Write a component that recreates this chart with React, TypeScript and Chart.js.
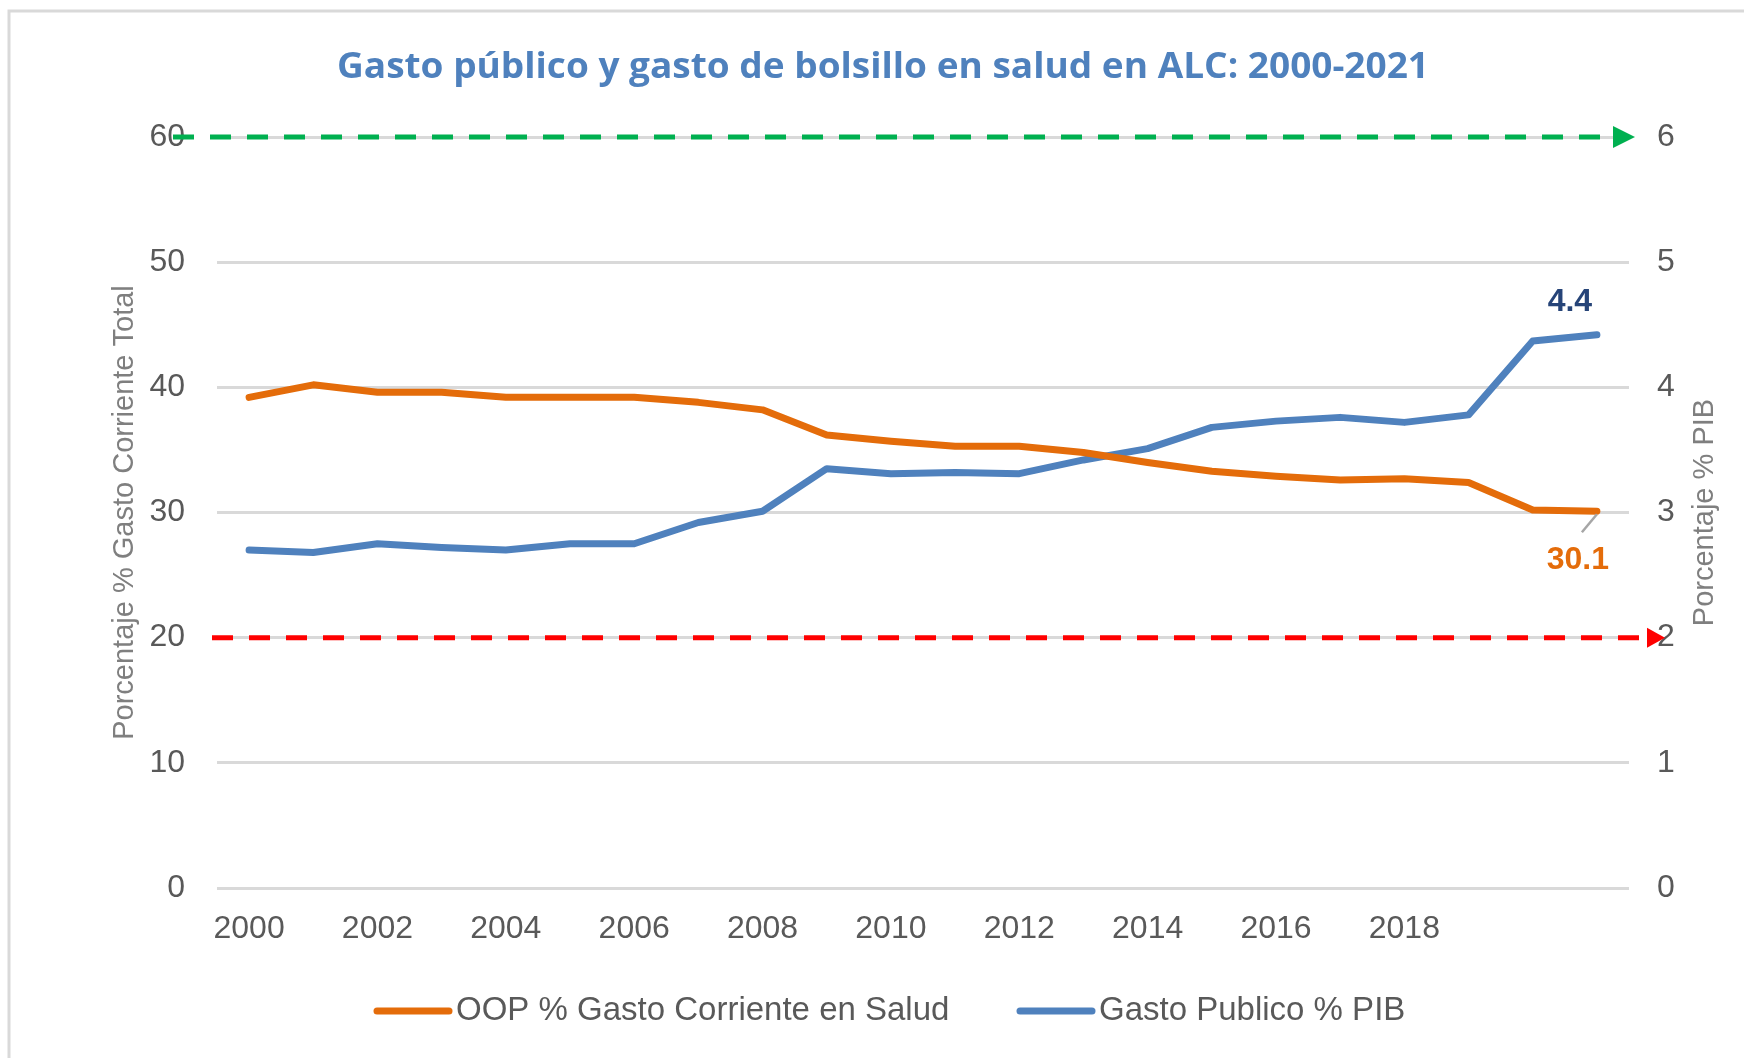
import React, { useEffect, useRef } from "react";
import { Chart, registerables } from "chart.js";

Chart.register(...registerables);

const years = ["2000","2001","2002","2003","2004","2005","2006","2007","2008","2009","2010","2011","2012","2013","2014","2015","2016","2017","2018","2019","2020","2021"];
const oopValues = [39.2,40.2,39.6,39.6,39.2,39.2,39.2,38.8,38.2,36.2,35.7,35.3,35.3,34.8,34.0,33.3,32.9,32.6,32.7,32.4,30.2,30.1];
const publicValues = [2.70,2.68,2.75,2.72,2.70,2.75,2.75,2.92,3.01,3.35,3.31,3.32,3.31,3.42,3.51,3.68,3.73,3.76,3.72,3.78,4.37,4.42];
const shownYearLabels = ["2000","2002","2004","2006","2008","2010","2012","2014","2016","2018"];
const refLevels = [60, 20];
const refColors = ["#00B050", "#FF0000"];
const seriesNames = ["OOP % Gasto Corriente en Salud", "Gasto Publico % PIB"];
const seriesColors = ["#E46C0A", "#4F81BD"];
const titleText = "Gasto público y gasto de bolsillo en salud en ALC: 2000-2021";
const leftTitle = "Porcentaje % Gasto Corriente Total";
const rightTitle = "Porcentaje % PIB";
const lastLabels = ["30.1", "4.4"];

const FONT = "'Liberation Sans', Arial, sans-serif";

const decorPlugin = {
  id: "decor",
  afterDatasetsDraw(chart: any) {
    const { ctx, chartArea, scales } = chart;
    const y = scales.y;
    ctx.save();
    // reference dashed lines with arrows
    refLevels.forEach((lv, i) => {
      const py = y.getPixelForValue(lv);
      const x0 = i === 0 ? chartArea.left - 44 : chartArea.left - 5;
      const tip = i === 0 ? chartArea.right + 6 : chartArea.right + 36;
      const headL = i === 0 ? 22 : 18;
      const headH = i === 0 ? 11 : 10;
      ctx.strokeStyle = refColors[i];
      ctx.lineWidth = 5;
      ctx.setLineDash([21, 16]);
      ctx.beginPath();
      ctx.moveTo(x0, py);
      ctx.lineTo(tip - headL + 1, py);
      ctx.stroke();
      ctx.setLineDash([]);
      ctx.fillStyle = refColors[i];
      ctx.beginPath();
      ctx.moveTo(tip, py);
      ctx.lineTo(tip - headL, py - headH);
      ctx.lineTo(tip - headL, py + headH);
      ctx.closePath();
      ctx.fill();
    });
    // last-point labels
    const m0 = chart.getDatasetMeta(0).data;
    const m1 = chart.getDatasetMeta(1).data;
    const p0 = m0[m0.length - 1];
    const p1 = m1[m1.length - 1];
    ctx.strokeStyle = "#A6A6A6";
    ctx.lineWidth = 2.5;
    ctx.beginPath();
    ctx.moveTo(p0.x, p0.y + 3);
    ctx.lineTo(p0.x - 15, p0.y + 21);
    ctx.stroke();
    ctx.font = "bold 32px " + FONT;
    ctx.textAlign = "center";
    ctx.textBaseline = "middle";
    ctx.fillStyle = "#E46C0A";
    ctx.fillText(lastLabels[0], p0.x - 19, p0.y + 49);
    ctx.fillStyle = "#264478";
    ctx.fillText(lastLabels[1], p1.x - 27, p1.y - 33);
    ctx.restore();
  },
  afterDraw(chart: any) {
    const { ctx, chartArea } = chart;
    ctx.save();
    // frame
    ctx.strokeStyle = "#D9D9D9";
    ctx.lineWidth = 3;
    ctx.beginPath();
    ctx.moveTo(9, 1058);
    ctx.lineTo(9, 11);
    ctx.lineTo(1744, 11);
    ctx.stroke();
    // title (stretched to the reference width)
    ctx.fillStyle = "#4F81BD";
    ctx.font = "bold 35px 'Liberation Sans Narrow', 'Open Sans', sans-serif";
    ctx.textAlign = "center";
    ctx.textBaseline = "middle";
    const w = ctx.measureText(titleText).width;
    ctx.save();
    ctx.translate(883, 68);
    ctx.scale(1092 / w, 1);
    ctx.fillText(titleText, 0, 0);
    ctx.restore();
    // axis titles
    const cy = (chartArea.top + chartArea.bottom) / 2;
    ctx.fillStyle = "#7F7F7F";
    ctx.font = "29px " + FONT;
    ctx.save();
    ctx.translate(125, cy);
    ctx.rotate(-Math.PI / 2);
    ctx.fillText(leftTitle, 0, 0);
    ctx.restore();
    ctx.save();
    ctx.translate(1705, cy);
    ctx.rotate(-Math.PI / 2);
    ctx.fillText(rightTitle, 0, 0);
    ctx.restore();
    // legend
    const ly = 1011;
    const items = [
      { x: 377, tx: 456 },
      { x: 1020, tx: 1099 },
    ];
    ctx.font = "33px " + FONT;
    ctx.textAlign = "left";
    items.forEach((it, i) => {
      ctx.strokeStyle = seriesColors[i];
      ctx.lineWidth = 7;
      ctx.lineCap = "round";
      ctx.beginPath();
      ctx.moveTo(it.x, ly);
      ctx.lineTo(it.x + 72, ly);
      ctx.stroke();
      ctx.fillStyle = "#595959";
      ctx.fillText(seriesNames[i], it.tx, ly);
    });
    ctx.restore();
  },
};

export default function App() {
  const ref = useRef<HTMLCanvasElement | null>(null);
  useEffect(() => {
    if (!ref.current) return;
    const chart = new Chart(ref.current, {
      type: "line",
      data: {
        labels: years,
        datasets: [
          {
            label: seriesNames[0],
            data: oopValues,
            yAxisID: "y",
            borderColor: seriesColors[0],
            backgroundColor: seriesColors[0],
            borderWidth: 7,
            pointRadius: 0,
            tension: 0,
            borderCapStyle: "round",
            borderJoinStyle: "round",
          },
          {
            label: seriesNames[1],
            data: publicValues,
            yAxisID: "y1",
            borderColor: seriesColors[1],
            backgroundColor: seriesColors[1],
            borderWidth: 7,
            pointRadius: 0,
            tension: 0,
            borderCapStyle: "round",
            borderJoinStyle: "round",
          },
        ],
      },
      options: {
        animation: false,
        responsive: false,
        maintainAspectRatio: false,
        layout: { padding: { top: 137, left: 0, right: 0, bottom: 0 } },
        plugins: {
          legend: { display: false },
          title: { display: false },
          tooltip: { enabled: false },
        },
        scales: {
          x: {
            type: "category",
            offset: true,
            grid: { display: false, drawTicks: false },
            border: { display: false },
            ticks: {
              autoSkip: false,
              maxRotation: 0,
              minRotation: 0,
              padding: 22,
              color: "#595959",
              font: { family: FONT, size: 32 },
              callback: function (this: any, v: any) {
                const l = years[v as number];
                return shownYearLabels.includes(l) ? l : "";
              },
            },
            afterFit: (s: any) => {
              s.height = 170;
            },
          },
          y: {
            position: "left",
            min: 0,
            max: 60,
            ticks: {
              stepSize: 10,
              padding: 32,
              color: "#595959",
              font: { family: FONT, size: 32 },
            },
            grid: { color: "#D9D9D9", lineWidth: 3, drawTicks: false },
            border: { display: false },
            afterFit: (s: any) => {
              s.width = 217;
            },
          },
          y1: {
            position: "right",
            min: 0,
            max: 6,
            ticks: {
              stepSize: 1,
              padding: 28,
              color: "#595959",
              font: { family: FONT, size: 32 },
            },
            grid: { drawOnChartArea: false, drawTicks: false },
            border: { display: false },
            afterFit: (s: any) => {
              s.width = 115;
            },
          },
        },
      },
      plugins: [decorPlugin],
    } as any);
    return () => chart.destroy();
  }, []);
  return (
    <div style={{ position: "fixed", left: 0, top: 0, width: 1744, height: 1058, background: "#fff" }}>
      <canvas ref={ref} width={1744} height={1058} style={{ width: 1744, height: 1058, display: "block" }} />
    </div>
  );
}
